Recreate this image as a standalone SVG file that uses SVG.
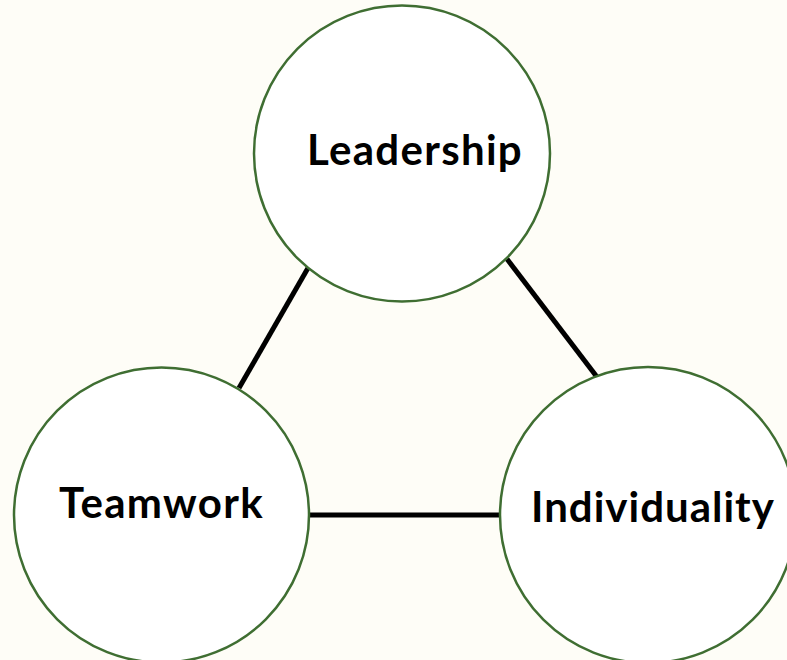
<svg xmlns="http://www.w3.org/2000/svg" width="787" height="660" viewBox="0 0 787 660">
<style>
.node circle{fill:#ffffff;stroke:#3f6e32;stroke-width:2.5}
.node text{font-family:Lato,"Open Sans","Liberation Sans",sans-serif;font-weight:bold;font-size:42px;letter-spacing:1.3px;fill:#000}
.edge{stroke:#000;stroke-width:5;fill:none}
</style>
<rect width="787" height="660" fill="#fefdf7"/>
<g id="connectors">
<line class="edge" x1="308" y1="268" x2="239" y2="388"/>
<line class="edge" x1="507" y1="259" x2="597" y2="377"/>
<line class="edge" x1="309" y1="515" x2="500" y2="515"/>
</g>
<g id="leadership" class="node">
<circle cx="402" cy="153.5" r="148"/>
<text x="307" y="165">Leadership</text>
</g>
<g id="teamwork" class="node">
<circle cx="161.5" cy="515" r="147.5"/>
<text x="59" y="518">Teamwork</text>
</g>
<g id="individuality" class="node">
<circle cx="648" cy="515" r="148"/>
<text x="531" y="522" style="letter-spacing:1px">Individuality</text>
</g>
</svg>
